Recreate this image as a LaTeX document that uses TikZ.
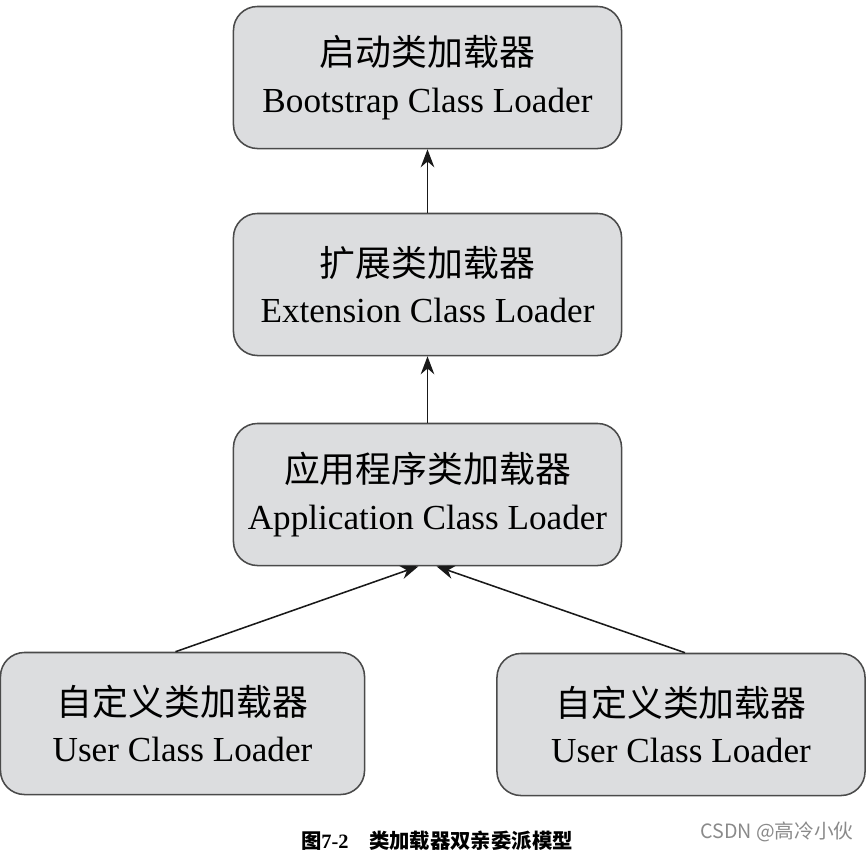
\documentclass[tikz,border=0pt]{standalone}
\usepackage{fontspec}
\setmainfont{Liberation Serif}
\newfontfamily\cjk{Noto Sans CJK SC}
\usetikzlibrary{arrows.meta, positioning, calc}
\definecolor{loaderFill}{HTML}{DCDDDF}
\definecolor{loaderLine}{HTML}{4A4A4A}
\definecolor{markGray}{HTML}{8A8A8A}
\tikzset{
  arrowK/.style={-{Stealth[length=4.5mm, width=3.4mm]}, black!90, line width=1.1pt},
  boxL/.style={rectangle, rounded corners=0.6cm, draw=loaderLine, fill=loaderFill,
               line width=1.1pt, align=center, inner sep=2pt,
               font=\fontsize{25}{33}\selectfont, minimum height=3.55cm},
}
\newcommand{\zh}[1]{{\cjk\fontsize{25.5}{33}\selectfont #1}}

\begin{document}
\begin{tikzpicture}[x=0.025cm, y=-0.025cm]
    \useasboundingbox (0,0) rectangle (868,851);
    \node[boxL, minimum width=9.7cm] (boot) at (427.5,77.5)
      {\zh{启动类加载器}\\Bootstrap Class Loader};
    \node[boxL, minimum width=9.7cm] (ext) at (427.5,284.5)
      {\zh{扩展类加载器}\\Extension Class Loader};
    \node[boxL, minimum width=9.7cm] (app) at (427.5,494.5)
      {\zh{应用程序类加载器}\\Application Class Loader};
    \node[boxL, minimum width=9.1cm] (userL) at (182.5,723.5)
      {\zh{自定义类加载器}\\User Class Loader};
    \node[boxL, minimum width=9.2cm] (userR) at (681,724.5)
      {\zh{自定义类加载器}\\User Class Loader};
    \draw[arrowK] (ext) -- (boot);
    \draw[arrowK] (app) -- (ext);
    \draw[arrowK] ($(userL.north)+(-7,0)$) -- ($(app.south)+(-9,0)$);
    \draw[arrowK] ($(userR.north)+(4,0)$) -- ($(app.south)+(9,0)$);
    % caption and mark
    \node[font=\fontsize{14.5}{16}\selectfont\bfseries] (cap) at (437,841)
      {{\cjk 图}7-2\hspace{1em}{\cjk 类加载器双亲委派模型}};
    \node[font=\cjk\fontsize{14}{16}\selectfont, text=markGray] (mark) at (777,832)
      {CSDN @高冷小伙};
\end{tikzpicture}
\end{document}
